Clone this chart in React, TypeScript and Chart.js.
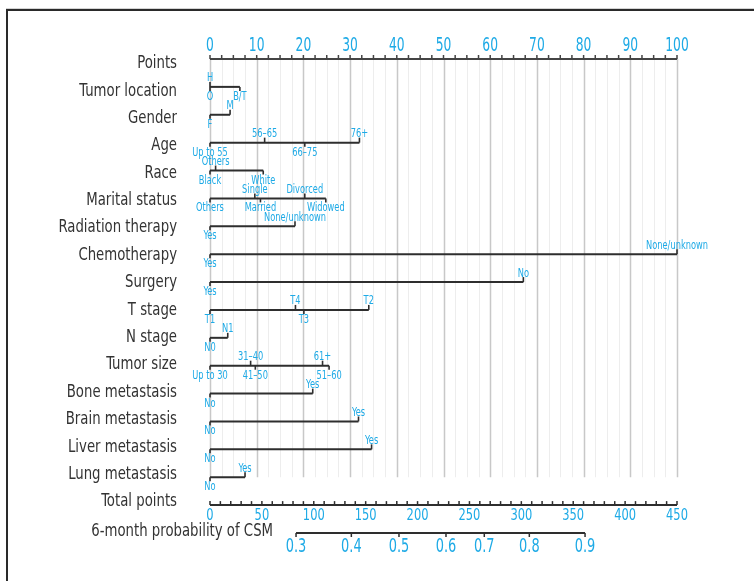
import React, { useEffect, useRef } from 'react';
import { Chart, registerables } from 'chart.js';
Chart.register(...registerables);

// ---------- DATA ----------
const rowLabels = [
  'Points', 'Tumor location', 'Gender', 'Age', 'Race', 'Marital status',
  'Radiation therapy', 'Chemotherapy', 'Surgery', 'T stage', 'N stage',
  'Tumor size', 'Bone metastasis', 'Brain metastasis', 'Liver metastasis',
  'Lung metastasis', 'Total points', '6-month probability of CSM',
];

const pointTickLabels = [0, 10, 20, 30, 40, 50, 60, 70, 80, 90, 100];
const totalPointTickLabels = [0, 50, 100, 150, 200, 250, 300, 350, 400, 450];
const probLevels = [0.3, 0.4, 0.5, 0.6, 0.7, 0.8, 0.9];
const probTotalPoints = [82.9, 136.2, 182.1, 227.4, 264.3, 307.7, 361.4];

const tumorLocationLevels = ['H', 'O', 'B/T'];
const tumorLocationPoints = [0, 0, 6.4];
const genderLevels = ['F', 'M'];
const genderPoints = [0, 4.3];
const ageLevels = ['Up to 55', '56–65', '66–75', '76+'];
const agePoints = [0, 11.7, 20.3, 32.0];
const raceLevels = ['Black', 'Others', 'White'];
const racePoints = [0, 1.2, 11.4];
const maritalLevels = ['Others', 'Single', 'Married', 'Divorced', 'Widowed'];
const maritalPoints = [0, 9.6, 10.8, 20.3, 24.8];
const radiationLevels = ['Yes', 'None/unknown'];
const radiationPoints = [0, 18.2];
const chemoLevels = ['Yes', 'None/unknown'];
const chemoPoints = [0, 100];
const surgeryLevels = ['Yes', 'No'];
const surgeryPoints = [0, 67.1];
const tStageLevels = ['T1', 'T4', 'T3', 'T2'];
const tStagePoints = [0, 18.3, 20.1, 34.0];
const nStageLevels = ['N0', 'N1'];
const nStagePoints = [0, 3.8];
const tumorSizeLevels = ['Up to 30', '31–40', '41–50', '61+', '51–60'];
const tumorSizePoints = [0, 8.7, 9.7, 24.1, 25.5];
const boneLevels = ['No', 'Yes'];
const bonePoints = [0, 22.0];
const brainLevels = ['No', 'Yes'];
const brainPoints = [0, 31.8];
const liverLevels = ['No', 'Yes'];
const liverPoints = [0, 34.6];
const lungLevels = ['No', 'Yes'];
const lungPoints = [0, 7.5];

// ---------- LAYOUT (label side: 'u' above, 'd' below) ----------
const tumorLocationSides = ['u', 'd', 'd'];
const genderSides = ['d', 'u'];
const ageSides = ['d', 'u', 'd', 'u'];
const raceSides = ['d', 'u', 'd'];
const maritalSides = ['d', 'u', 'd', 'u', 'd'];
const twoSides = ['d', 'u'];
const tStageSides = ['d', 'u', 'd', 'u'];
const tumorSizeSides = ['d', 'u', 'd', 'u', 'd'];

const variables = [
  { row: 1, levels: tumorLocationLevels, points: tumorLocationPoints, sides: tumorLocationSides },
  { row: 2, levels: genderLevels, points: genderPoints, sides: genderSides },
  { row: 3, levels: ageLevels, points: agePoints, sides: ageSides },
  { row: 4, levels: raceLevels, points: racePoints, sides: raceSides },
  { row: 5, levels: maritalLevels, points: maritalPoints, sides: maritalSides },
  { row: 6, levels: radiationLevels, points: radiationPoints, sides: twoSides },
  { row: 7, levels: chemoLevels, points: chemoPoints, sides: twoSides },
  { row: 8, levels: surgeryLevels, points: surgeryPoints, sides: twoSides },
  { row: 9, levels: tStageLevels, points: tStagePoints, sides: tStageSides },
  { row: 10, levels: nStageLevels, points: nStagePoints, sides: twoSides },
  { row: 11, levels: tumorSizeLevels, points: tumorSizePoints, sides: tumorSizeSides },
  { row: 12, levels: boneLevels, points: bonePoints, sides: twoSides },
  { row: 13, levels: brainLevels, points: brainPoints, sides: twoSides },
  { row: 14, levels: liverLevels, points: liverPoints, sides: twoSides },
  { row: 15, levels: lungLevels, points: lungPoints, sides: twoSides },
];

const FONT = '"DejaVu Sans Condensed", "DejaVu Sans", sans-serif';
const BLUE = '#1eaae6';
const DARK = '#333333';
const LINE = '#2e2e2e';

// draw horizontally condensed text
function txt(ctx: any, s: string, x: number, y: number, sx: number) {
  ctx.save();
  ctx.translate(x, y);
  ctx.scale(sx, 1);
  ctx.fillText(s, 0, 0);
  ctx.restore();
}

const nomogramPlugin = {
  id: 'nomogram',
  beforeDatasetsDraw(chart: any) {
    const { ctx } = chart;
    const x = chart.scales.x;
    const y = chart.scales.y;
    const top = y.getPixelForValue(0);
    const bottom = y.getPixelForValue(15);
    ctx.save();
    for (let v = 0; v <= 100.001; v += 2.5) {
      const px = Math.round(x.getPixelForValue(v)) + 0.5;
      const major = Math.abs(v % 10) < 0.001;
      ctx.strokeStyle = major ? '#c8c8c8' : '#ededed';
      ctx.lineWidth = major ? 1.5 : 1;
      ctx.beginPath();
      ctx.moveTo(px, top);
      ctx.lineTo(px, bottom);
      ctx.stroke();
    }
    ctx.restore();
  },
  afterDatasetsDraw(chart: any) {
    const { ctx } = chart;
    const x = chart.scales.x;
    const xt = chart.scales.xt;
    const y = chart.scales.y;
    ctx.save();

    // Row titles
    ctx.fillStyle = DARK;
    ctx.font = `18px ${FONT}`;
    ctx.textBaseline = 'middle';
    ctx.textAlign = 'right';
    rowLabels.forEach((lab, i) => {
      if (i === 17) {
        const px = xt.getPixelForValue(probTotalPoints[0]) - 23;
        txt(ctx, lab, px, y.getPixelForValue(i) - 2, 0.82);
      } else {
        txt(ctx, lab, 177, y.getPixelForValue(i) + 4.5 - 0.5 * i, 0.82);
      }
    });

    // Points axis
    const y0 = y.getPixelForValue(0);
    ctx.strokeStyle = '#444';
    ctx.lineWidth = 2;
    ctx.beginPath();
    ctx.moveTo(x.getPixelForValue(0), y0);
    ctx.lineTo(x.getPixelForValue(100), y0);
    ctx.stroke();
    ctx.lineWidth = 1.5;
    for (let v = 0; v <= 100.001; v += 2.5) {
      const px = x.getPixelForValue(v);
      ctx.beginPath();
      ctx.moveTo(px, y0);
      ctx.lineTo(px, y0 - 4);
      ctx.stroke();
    }
    ctx.fillStyle = BLUE;
    ctx.font = `19px ${FONT}`;
    ctx.textAlign = 'center';
    pointTickLabels.forEach((v) => {
      txt(ctx, String(v), x.getPixelForValue(v), y0 - 13, 0.72);
    });

    // Variable ticks and labels
    ctx.font = `11.5px ${FONT}`;
    ctx.strokeStyle = LINE;
    ctx.lineWidth = 1.6;
    variables.forEach((vr) => {
      const py = y.getPixelForValue(vr.row);
      vr.levels.forEach((lab, j) => {
        const px = x.getPixelForValue(vr.points[j]);
        const up = vr.sides[j] === 'u';
        ctx.beginPath();
        ctx.moveTo(px, py);
        ctx.lineTo(px, up ? py - 5 : py + 4);
        ctx.stroke();
        txt(ctx, lab, px, up ? py - 8.5 : py + 10, 0.8);
      });
    });

    // Total points axis
    const y16 = y.getPixelForValue(16);
    ctx.strokeStyle = LINE;
    ctx.lineWidth = 2;
    ctx.beginPath();
    ctx.moveTo(xt.getPixelForValue(0), y16);
    ctx.lineTo(xt.getPixelForValue(450), y16);
    ctx.stroke();
    ctx.lineWidth = 1.5;
    for (let v = 0; v <= 450; v += 10) {
      const px = xt.getPixelForValue(v);
      ctx.beginPath();
      ctx.moveTo(px, y16);
      ctx.lineTo(px, y16 - 4);
      ctx.stroke();
    }
    ctx.font = `15px ${FONT}`;
    totalPointTickLabels.forEach((v) => {
      txt(ctx, String(v), xt.getPixelForValue(v), y16 + 11, 0.85);
    });

    // Probability axis
    const y17 = y.getPixelForValue(17);
    ctx.lineWidth = 2;
    ctx.beginPath();
    ctx.moveTo(xt.getPixelForValue(probTotalPoints[0]), y17);
    ctx.lineTo(xt.getPixelForValue(probTotalPoints[probTotalPoints.length - 1]), y17);
    ctx.stroke();
    ctx.lineWidth = 1.5;
    ctx.font = `20px ${FONT}`;
    probLevels.forEach((p, j) => {
      const px = xt.getPixelForValue(probTotalPoints[j]);
      ctx.beginPath();
      ctx.moveTo(px, y17);
      ctx.lineTo(px, y17 + 4);
      ctx.stroke();
      txt(ctx, p.toFixed(1), px, y17 + 14, 0.72);
    });

    ctx.restore();
  },
};

export default function App() {
  const ref = useRef<HTMLCanvasElement | null>(null);
  useEffect(() => {
    if (!ref.current) return;
    const datasets = variables.map((vr) => ({
      data: [
        { x: 0, y: vr.row },
        { x: Math.max(...vr.points), y: vr.row },
      ],
      borderColor: LINE,
      borderWidth: 2,
      pointRadius: 0,
      showLine: true,
      clip: false as any,
      xAxisID: 'x',
      yAxisID: 'y',
    }));
    const chart = new Chart(ref.current, {
      type: 'scatter',
      data: { datasets },
      options: {
        animation: false,
        responsive: false,
        devicePixelRatio: 1,
        layout: { padding: { left: 210, right: 77, top: 59, bottom: 48 } },
        plugins: { legend: { display: false }, tooltip: { enabled: false } },
        scales: {
          x: { type: 'linear', min: 0, max: 100, display: false },
          xt: { type: 'linear', axis: 'x', min: 0, max: 450, display: false },
          y: { type: 'linear', min: 0, max: 17, reverse: true, display: false },
        },
      } as any,
      plugins: [nomogramPlugin],
    });
    return () => chart.destroy();
  }, []);
  return (
    <div style={{ position: 'fixed', left: 0, top: 0, width: 754, height: 581, background: '#fff' }}>
      <div
        style={{
          position: 'absolute', left: 6, top: 9, right: -10, bottom: -10,
          borderTop: '2px solid #2a2a2a', borderLeft: '2px solid #2a2a2a',
          boxShadow: '0 -1px 0 #d4d4d4',
        }}
      />
      <canvas ref={ref} width={754} height={581} style={{ position: 'absolute', left: 0, top: 0 }} />
    </div>
  );
}
